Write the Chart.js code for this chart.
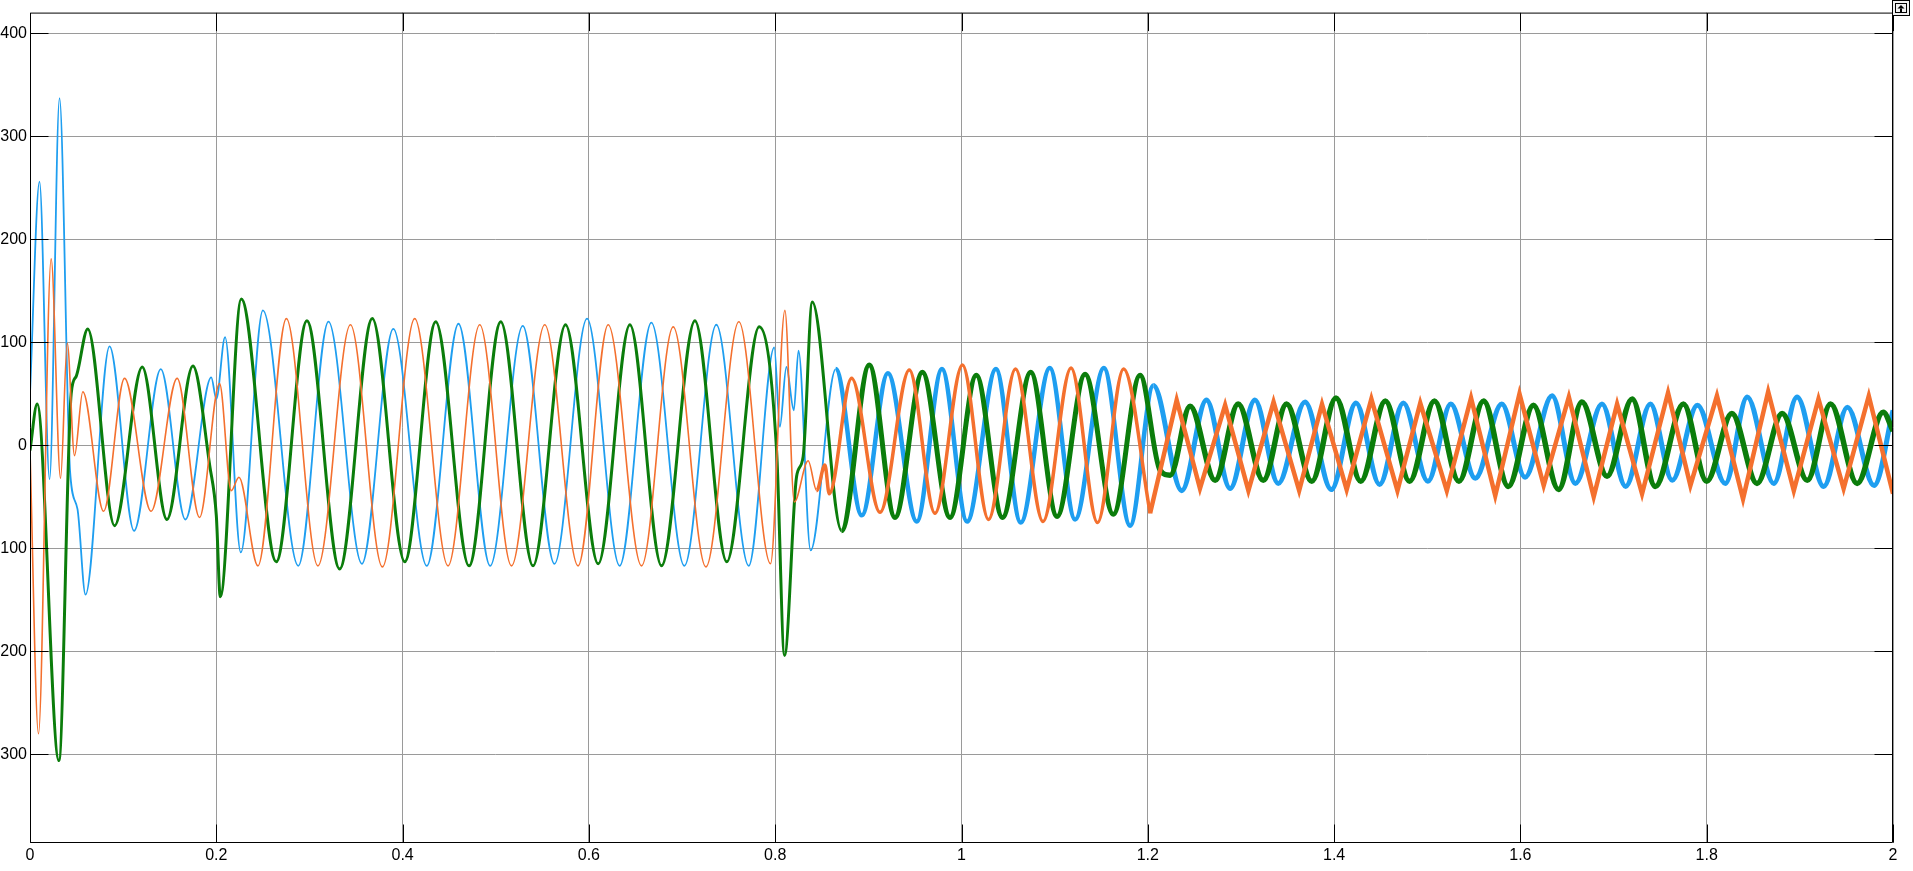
<!DOCTYPE html>
<html>
<head>
<meta charset="utf-8">
<script src="https://cdn.jsdelivr.net/npm/chart.js@4.4.0/dist/chart.umd.min.js"></script>
<style>
  html, body { margin: 0; padding: 0; background: #fff; overflow: hidden; }
  #wrap { position: absolute; left: 0; top: 0; width: 1913px; height: 871px; }
</style>
</head>
<body>
<div id="wrap"><canvas id="chart" width="1913" height="871"></canvas></div>
<script>
// ─── Axis ticks ──────────────────────────────────────────────────────────────
const xTicks      = [0, 0.2, 0.4, 0.6, 0.8, 1, 1.2, 1.4, 1.6, 1.8, 2];
const xTickLabels = ['0', '0.2', '0.4', '0.6', '0.8', '1', '1.2', '1.4', '1.6', '1.8', '2'];
const yTicks      = [-300, -200, -100, 0, 100, 200, 300, 400];

// ─── Scope traces: [time (s), value] at turning points ─
// phase A — light blue
const phaseA = [
  [0, 50], [0.0102, 256], [0.021, -33], [0.0317, 337], [0.043, -25], [0.051, -62], [0.0596, -145],
  [0.0854, 96], [0.1117, -83], [0.1404, 74], [0.1668, -72], [0.1946, 66], [0.2, 45], [0.2094, 105],
  [0.2263, -104], [0.25, 131], [0.288, -117], [0.3204, 120], [0.3563, -115], [0.39, 113], [0.426, -117],
  [0.46, 118], [0.494, -117], [0.529, 116], [0.563, -115], [0.598, 123], [0.633, -117], [0.667, 119],
  [0.7025, -117], [0.7368, 117], [0.7716, -117], [0.799, 95], [0.805, 18], [0.812, 76], [0.82, 34],
  [0.825, 92], [0.838, -102], [0.865, 74], [0.893, -68], [0.921, 70], [0.952, -74], [0.979, 74],
  [1.006, -74], [1.037, 74], [1.0636, -75], [1.0948, 75], [1.122, -72], [1.1528, 75], [1.181, -78],
  [1.206, 58], [1.2365, -44], [1.263, 44], [1.2884, -42], [1.315, 44], [1.34, -37], [1.3688, 42],
  [1.397, -43], [1.4235, 41], [1.4488, -38], [1.4743, 41], [1.5007, -35], [1.5253, 40], [1.5516, -32],
  [1.58, 40], [1.605, -31], [1.634, 48], [1.659, -37], [1.6876, 40], [1.713, -40], [1.7395, 40],
  [1.763, -34], [1.79, 39], [1.82, -37], [1.8435, 47], [1.872, -37], [1.897, 47], [1.9256, -40],
  [1.951, 37], [1.9797, -39], [2.0, 34],
];

// phase B — orange
const phaseB = [
  [0, -5], [0.0091, -280], [0.0227, 181], [0.0328, -32], [0.04, 99], [0.0478, -10], [0.0567, 52],
  [0.079, -64], [0.1015, 65], [0.13, -64], [0.158, 65], [0.182, -70], [0.2035, 60], [0.216, -44],
  [0.2243, -31], [0.2447, -117], [0.2752, 123], [0.3091, -117], [0.344, 117], [0.3783, -118],
  [0.413, 123], [0.4488, -117], [0.4828, 117], [0.5169, -117], [0.5526, 117], [0.5884, -117],
  [0.6207, 117], [0.6565, -117], [0.6905, 115], [0.7256, -118], [0.761, 120], [0.795, -115],
  [0.8104, 131], [0.8205, -55], [0.8354, -15], [0.8445, -44], [0.8534, -19], [0.858, -47], [0.882, 65],
  [0.9125, -65], [0.944, 73], [0.9715, -66], [1.001, 78], [1.029, -72], [1.058, 74], [1.0875, -74],
  [1.1176, 75], [1.146, -75], [1.174, 74], [1.2025, -66], [1.231, 44], [1.256, -42], [1.283, 39],
  [1.308, -44], [1.335, 42], [1.3625, -44], [1.387, 40], [1.4135, -43], [1.44, 45], [1.468, -44],
  [1.4925, 41], [1.521, -44], [1.547, 46], [1.573, -49], [1.599, 50], [1.625, -39], [1.652, 47],
  [1.6787, -50], [1.7038, 40], [1.7306, -47], [1.7585, 51], [1.7825, -39], [1.811, 48], [1.839, -52],
  [1.866, 52], [1.8935, -44], [1.92, 45], [1.947, -42], [1.974, 48], [2.0, -47],
];

// phase C — dark green
const phaseC = [
  [0, -5], [0.0077, 40], [0.031, -306], [0.0442, 50], [0.0496, 67], [0.062, 113], [0.0908, -78],
  [0.1205, 76], [0.147, -72], [0.1749, 77], [0.193, -20], [0.2, -68], [0.2043, -147], [0.2268, 142],
  [0.2644, -113], [0.2973, 121], [0.3324, -120], [0.3675, 123], [0.4023, -113], [0.4356, 120],
  [0.4713, -117], [0.5054, 120], [0.54, -117], [0.5749, 117], [0.61, -115], [0.644, 117], [0.678, -117],
  [0.7138, 121], [0.748, -113], [0.7828, 115], [0.8015, -5], [0.81, -204], [0.823, -30], [0.83, -11],
  [0.8398, 139], [0.8713, -83], [0.901, 78], [0.9286, -70], [0.958, 71], [0.9877, -70], [1.0159, 68],
  [1.044, -70], [1.0743, 71], [1.1026, -69], [1.1327, 69], [1.163, -67], [1.1917, 68], [1.213, -24],
  [1.224, -29], [1.2454, 38], [1.2723, -34], [1.297, 40], [1.324, -34], [1.349, 40], [1.376, -35],
  [1.402, 46], [1.4286, -35], [1.455, 43], [1.481, -35], [1.5077, 43], [1.534, -35], [1.5605, 43],
  [1.587, -40], [1.614, 39], [1.641, -43], [1.666, 42], [1.693, -30], [1.72, 45], [1.7448, -40],
  [1.775, 40], [1.8, -35], [1.827, 31], [1.854, -37], [1.881, 31], [1.908, -34], [1.933, 40],
  [1.9615, -37], [1.9895, 32], [2.0, 14],
];

// after this instant the orange phase turns into a sharp-cornered triangle
const stepTime = 1.2025;

// ─── Helpers ─────────────────────────────────────────────────────────────────

const toXY = arr => arr.map(([x, y]) => ({ x, y }));

// trace gets fatter (ripple band) once the drive steps down
const bandWidth = (early, mid, late) => ctx => {
  const t = ctx.p0.parsed.x;
  return t < 0.84 ? early : t < 1.2 ? mid : late;
};

// black frame, inward tick marks and the little restore button, Simulink-style
const scopeFrame = {
  id: 'scopeFrame',
  afterDatasetsDraw(chart) {
    const { ctx, chartArea: a, scales: { x, y } } = chart;
    const L = a.left + 0.5, R = a.right - 0.5, T = a.top + 0.5, B = a.bottom - 0.5;
    const len = 18;
    ctx.save();
    ctx.strokeStyle = '#000';
    ctx.lineWidth = 1;
    ctx.beginPath();
    ctx.rect(L, T, R - L, B - T);
    xTicks.forEach(v => {
      const px = Math.round(x.getPixelForValue(v)) + 0.5;
      ctx.moveTo(px, B); ctx.lineTo(px, B - len);
      ctx.moveTo(px, T); ctx.lineTo(px, T + len);
    });
    yTicks.forEach(v => {
      const py = Math.round(y.getPixelForValue(v)) + 0.5;
      ctx.moveTo(L, py); ctx.lineTo(L + len, py);
      ctx.moveTo(R, py); ctx.lineTo(R - len, py);
    });
    ctx.stroke();

    // restore button in the corner
    const bx = R, by = 0.5;
    ctx.fillStyle = '#f0f0f0';
    ctx.fillRect(bx, by, 17, 15);
    ctx.strokeRect(bx, by, 17, 15);
    ctx.strokeRect(bx + 3, by + 3, 11, 9);
    ctx.fillStyle = '#000';
    ctx.beginPath();
    ctx.moveTo(bx + 8.5, by + 4.5);
    ctx.lineTo(bx + 12, by + 8);
    ctx.lineTo(bx + 5, by + 8);
    ctx.closePath();
    ctx.fill();
    ctx.fillRect(bx + 7.5, by + 8, 2, 3.5);
    ctx.restore();
  },
};

// ─── Chart ───────────────────────────────────────────────────────────────────

const line = (label, data, color, widths, smooth = true) => ({
  label,
  data: toXY(data),
  borderColor: color,
  borderWidth: widths[0],
  segment: { borderWidth: bandWidth(...widths) },
  pointRadius: 0,
  cubicInterpolationMode: smooth ? 'monotone' : 'default',
  tension: 0,
  fill: false,
});

const orangeEarly = phaseB.filter(p => p[0] <= stepTime);
const orangeLate  = phaseB.filter(p => p[0] >= stepTime);

new Chart(document.getElementById('chart').getContext('2d'), {
  type: 'line',
  data: {
    datasets: [
      line('Phase B', orangeEarly, '#f4702e', [1.6, 3.5, 4.5]),
      line('Phase B (after step)', orangeLate, '#f4702e', [4.5, 4.5, 4.5], false),
      line('Phase C', phaseC, '#0b7d0b', [3, 5, 5.5]),
      line('Phase A', phaseA, '#1e9ef0', [1.8, 4.5, 5]),
    ],
  },
  options: {
    responsive: false,
    animation: false,
    layout: { padding: { top: 12, right: 20, left: 0, bottom: 0 } },
    plugins: { legend: { display: false }, tooltip: { enabled: false } },
    scales: {
      x: {
        type: 'linear',
        min: 0,
        max: 2,
        afterBuildTicks: s => { s.ticks = xTicks.map(v => ({ value: v })); },
        afterFit: s => { s.height = 28; },
        grid: { color: '#9a9a9a', lineWidth: 1, drawTicks: false },
        border: { display: false },
        ticks: {
          padding: 3,
          color: '#000',
          font: { family: 'Liberation Sans, Arial, sans-serif', size: 16 },
          maxRotation: 0,
          callback: (v, i) => xTickLabels[i],
        },
      },
      y: {
        type: 'linear',
        min: -386,
        max: 420,
        afterBuildTicks: s => { s.ticks = yTicks.map(v => ({ value: v })); },
        afterFit: s => { s.width = 30; },
        grid: { color: '#9a9a9a', lineWidth: 1, drawTicks: false },
        border: { display: false },
        ticks: {
          padding: 3,
          color: '#000',
          font: { family: 'Liberation Sans, Arial, sans-serif', size: 16 },
          callback: v => String(v),
        },
      },
    },
  },
  plugins: [scopeFrame],
});
</script>
</body>
</html>
